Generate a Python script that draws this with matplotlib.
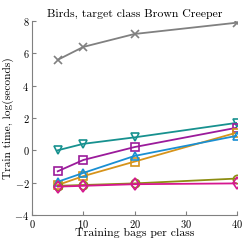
import matplotlib
matplotlib.use("Agg")
import matplotlib.pyplot as plt

plt.rcParams['font.family'] = 'cmr10'
plt.rcParams['mathtext.fontset'] = 'cm'
plt.rcParams['axes.formatter.use_mathtext'] = True

# Data
bags = [5, 10, 20, 40]
grey_x = [5.6, 6.4, 7.2, 7.9]
teal_v = [0.0, 0.4, 0.8, 1.7]
purple_s = [-1.3, -0.6, 0.2, 1.4]
blue_t = [-1.95, -1.4, -0.35, 0.9]
orange_s = [-2.15, -1.6, -0.7, 1.1]
olive_o = [-2.2, -2.15, -2.05, -1.75]
magenta_d = [-2.25, -2.2, -2.1, -2.05]

fig = plt.figure(figsize=(2.49, 2.42), dpi=100)
ax = fig.add_axes([0.129, 0.112, 0.823, 0.801])

kw = dict(lw=1.3, mfc='none', mew=1.2, ms=6)
ax.plot(bags, grey_x, marker='x', color='#808080', **kw)
ax.plot(bags, teal_v, marker='v', color='#17918f', **kw)
ax.plot(bags, purple_s, marker='s', color='#9b1b9b', **kw)
ax.plot(bags, orange_s, marker='s', color='#d6931a', **kw)
ax.plot(bags, blue_t, marker='^', color='#1a8fd2', **kw)
ax.plot(bags, olive_o, marker='o', color='#8d8d12', **kw)
ax.plot(bags, magenta_d, marker='d', color='#d6178f', **kw)

ax.set_xlim(0, 40)
ax.set_ylim(-4, 8)
ax.set_xticks([0, 10, 20, 30, 40])
ax.set_yticks([-4, -2, 0, 2, 4, 6, 8])
ax.spines['top'].set_visible(False)
ax.spines['right'].set_visible(False)
ax.spines['left'].set_color('#808080')
ax.spines['bottom'].set_color('#808080')
ax.tick_params(direction='in', length=3, labelsize=7.5, color='#808080', pad=2)
ax.set_title("Birds, target class Brown Creeper", fontsize=8.5, pad=3)
ax.set_xlabel("Training bags per class", fontsize=8.5, labelpad=-1)
ax.set_ylabel("Train time, log(seconds)", fontsize=8.2, labelpad=0)

fig.savefig("out.png", dpi=100)
